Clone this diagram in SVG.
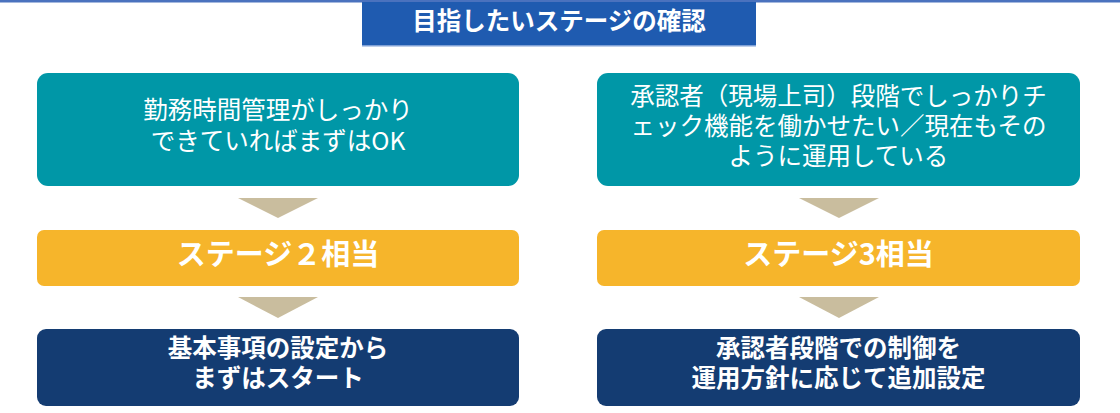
<svg xmlns="http://www.w3.org/2000/svg" width="1120" height="413" viewBox="0 0 1120 413">
<style>
.t{font-family:"Noto Sans CJK JP","Noto Sans",sans-serif;fill:#fff;text-anchor:middle}
.reg{font-size:24.5px;font-weight:400}
.bold{font-size:24.5px;font-weight:700}
.big{font-size:29px;font-weight:700}
.teal{fill:#0097A7}
.yel{fill:#F6B52B}
.navy{fill:#143C72}
.arr{fill:#C9BD9E}
</style>
<rect x="0" y="0" width="1120" height="413" fill="#fff"/>
<rect x="0" y="0" width="1120" height="2.5" fill="#4A72BE"/>
<g id="title">
<rect x="362" y="2" width="394" height="44" fill="#1F5BB0"/>
<rect x="362" y="45" width="394" height="1.5" fill="#7FA0D6"/>
<text class="t bold" x="559" y="29.5">目指したいステージの確認</text>
</g>
<g id="connectors">
<polygon class="arr" points="238,198 318,198 278,218"/>
<polygon class="arr" points="238,297 318,297 278,318"/>
<polygon class="arr" points="799,198 879,198 839,218"/>
<polygon class="arr" points="799,297 879,297 839,318"/>
</g>
<g id="left-goal">
<rect class="teal" x="37" y="73" width="482" height="113" rx="11"/>
<text class="t reg" x="278" y="119">勤務時間管理がしっかり</text>
<text class="t reg" x="278" y="150">できていればまずはOK</text>
</g>
<g id="left-stage">
<rect class="yel" x="37" y="230" width="482" height="56" rx="7"/>
<text class="t big" x="278" y="265">ステージ２相当</text>
</g>
<g id="left-action">
<rect class="navy" x="37" y="329" width="482" height="77" rx="9"/>
<text class="t bold" x="278" y="356.5">基本事項の設定から</text>
<text class="t bold" x="278" y="386.5">まずはスタート</text>
</g>
<g id="right-goal">
<rect class="teal" x="597" y="73" width="483" height="113" rx="11"/>
<text class="t reg" x="838.5" y="105">承認者（現場上司）段階でしっかりチ</text>
<text class="t reg" x="838.5" y="135">ェック機能を働かせたい／現在もその</text>
<text class="t reg" x="838.5" y="165">ように運用している</text>
</g>
<g id="right-stage">
<rect class="yel" x="597" y="230" width="483" height="56" rx="7"/>
<text class="t big" x="838.5" y="265">ステージ3相当</text>
</g>
<g id="right-action">
<rect class="navy" x="597" y="329" width="483" height="77" rx="9"/>
<text class="t bold" x="838.5" y="356.5">承認者段階での制御を</text>
<text class="t bold" x="838.5" y="386.5">運用方針に応じて追加設定</text>
</g>
</svg>
